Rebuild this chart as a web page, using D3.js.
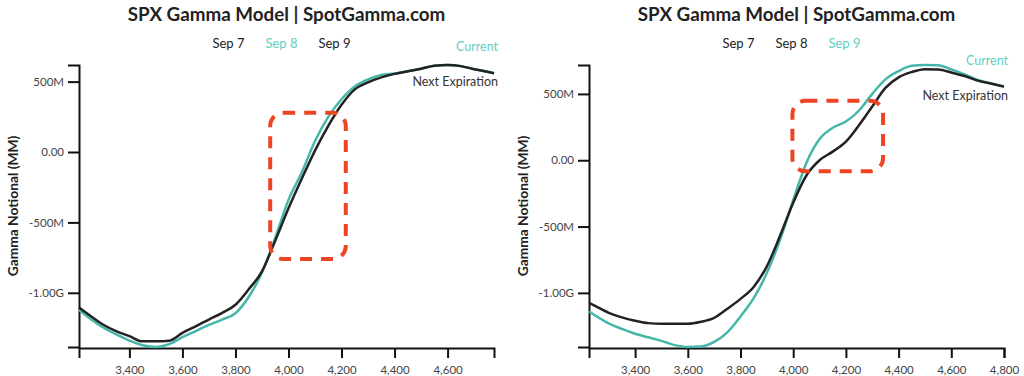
<!DOCTYPE html>
<html>
<head>
  <meta charset="utf-8">
  <script src="https://d3js.org/d3.v7.min.js"></script>
  <style>
    body {
      margin: 0;
      background: #fff;
      font-family: Lato, "Open Sans", sans-serif;
    }
    .axis path, .axis line {
      stroke: #111;
      stroke-width: 2px;
    }
    .axis text {
      font-family: Lato, sans-serif;
      font-size: 11.5px;
      fill: #444;
    }
  </style>
</head>
<body>
<script>
  // strikes + gamma (millions) read from the two snapshots
  var leftStrikes = [3210, 3250, 3300, 3350, 3400, 3450, 3500, 3550, 3600, 3650, 3700, 3750,
    3800, 3850, 3900, 3950, 4000, 4050, 4100, 4150, 4200, 4250, 4300, 4350, 4400, 4450,
    4500, 4550, 4600, 4650, 4700, 4750, 4775];
  var leftCurrent = [-1122, -1180, -1245, -1295, -1340, -1372, -1385, -1365, -1315, -1272, -1228, -1190,
    -1145, -1030, -855, -610, -340, -145, 78, 250, 375, 465, 515, 548, 558, 573,
    592, 612, 618, 610, 588, 570, 560];
  var leftNext = [-1105, -1160, -1225, -1272, -1308, -1345, -1345, -1340, -1285, -1238, -1190, -1143,
    -1085, -975, -848, -630, -400, -190, 10, 185, 335, 445, 495, 530, 555, 573,
    592, 612, 618, 610, 588, 570, 560];

  var rightStrikes = [3225, 3250, 3300, 3350, 3400, 3450, 3500, 3550, 3600, 3650, 3700, 3750,
    3800, 3850, 3900, 3950, 4000, 4050, 4100, 4150, 4200, 4250, 4300, 4350, 4400, 4450,
    4500, 4550, 4600, 4650, 4700, 4750, 4800];
  var rightCurrent = [-1140, -1172, -1230, -1272, -1308, -1335, -1362, -1394, -1408, -1405, -1370, -1298,
    -1178, -1040, -850, -600, -300, -20, 160, 245, 292, 375, 500, 610, 672, 712,
    718, 716, 685, 648, 605, 578, 555];
  var rightNext = [-1075, -1100, -1150, -1185, -1210, -1228, -1233, -1233, -1233, -1218, -1188, -1120,
    -1045, -955, -800, -570, -320, -115, 0, 65, 140, 265, 405, 545, 625, 665,
    686, 684, 662, 635, 600, 578, 555];

  var dateTabs = ["Sep 7", "Sep 8", "Sep 9"];
  var yTicks = [-1000, -500, 0, 500];
  var leftXTicks = [3400, 3600, 3800, 4000, 4200, 4400, 4600];
  var rightXTicks = [3400, 3600, 3800, 4000, 4200, 4400, 4600, 4800];

  // highlight boxes: [strikeFrom, strikeTo, gammaTop, gammaBottom]
  var leftBox = [3931, 4216, 278, -760];
  var rightBox = [3997, 4341, 448, -83];

  var teal = "#45b7a8",
      tealText = "#5fcfc4",
      dark = "#222";

  var W = 1024, H = 376;
  var svg = d3.select("body").append("svg")
      .attr("width", W)
      .attr("height", H);

  var loc = d3.formatLocale({decimal: ".", thousands: ",", grouping: [3], currency: ["$", ""], minus: "-"});
  var siFmt = loc.format(".3s");
  var commaFmt = loc.format(",");

  function drawPanel(ox, strikes, current, next, xTicks, activeTab, box) {
    var left = 79, right = 494, top = 65, bottom = 347;
    var g = svg.append("g").attr("transform", "translate(" + ox + ",0)");

    var x = d3.scaleLinear()
        .domain(d3.extent(strikes))
        .range([left, right]);
    var y = d3.scaleLinear()
        .domain([d3.min(current.concat(next)), d3.max(current.concat(next))])
        .range([bottom, top]);

    var cx = (left + right) / 2;

    g.append("text")
        .attr("x", cx)
        .attr("y", 21)
        .attr("text-anchor", "middle")
        .style("font-size", "18.8px")
        .style("font-weight", 700)
        .style("fill", "#222")
        .text("SPX Gamma Model | SpotGamma.com");

    g.selectAll(".tab")
        .data(dateTabs)
        .enter()
        .append("text")
        .attr("x", function (d, i) { return cx - 58 + i * 53; })
        .attr("y", 47.5)
        .attr("text-anchor", "middle")
        .style("font-size", "13px")
        .style("fill", function (d, i) { return i === activeTab ? tealText : "#222"; })
        .text(function (d) { return d; });

    g.append("g")
        .attr("class", "axis")
        .attr("transform", "translate(" + left + ",0)")
        .call(d3.axisLeft(y).tickValues(yTicks).tickSize(11)
          .tickFormat(function (d) { return siFmt(d * 1e6); }))
        .selectAll("text").attr("dx", "-1");

    g.append("g")
        .attr("class", "axis")
        .attr("transform", "translate(0," + (bottom + 1) + ")")
        .call(d3.axisBottom(x).tickValues(xTicks).tickSize(10).tickFormat(commaFmt))
        .selectAll("text").attr("dy", "1.1em");

    g.append("text")
        .attr("transform", "translate(18," + ((top + bottom) / 2) + ") rotate(-90)")
        .attr("text-anchor", "middle")
        .style("font-size", "13.8px")
        .style("font-weight", 700)
        .style("fill", "#222")
        .text("Gamma Notional (MM)");

    var line = d3.line()
        .x(function (d, i) { return x(strikes[i]); })
        .y(function (d) { return y(d); })
        .curve(d3.curveMonotoneX);

    g.append("path")
        .datum(current)
        .attr("d", line)
        .attr("fill", "none")
        .attr("stroke", teal)
        .attr("stroke-width", 2.5);

    g.append("path")
        .datum(next)
        .attr("d", line)
        .attr("fill", "none")
        .attr("stroke", dark)
        .attr("stroke-width", 2.5);

    var endY = y(next[next.length - 1]);
    g.append("text")
        .attr("x", right + 4)
        .attr("y", endY - 22)
        .attr("text-anchor", "end")
        .style("font-size", "12.5px")
        .style("fill", tealText)
        .text("Current");
    g.append("text")
        .attr("x", right + 4)
        .attr("y", endY + 13)
        .attr("text-anchor", "end")
        .style("font-size", "12.5px")
        .style("fill", "#333")
        .text("Next Expiration");

    g.append("rect")
        .attr("x", x(box[0]))
        .attr("y", y(box[2]))
        .attr("width", x(box[1]) - x(box[0]))
        .attr("height", y(box[3]) - y(box[2]))
        .attr("rx", 13)
        .attr("fill", "none")
        .attr("stroke", "#ee4424")
        .attr("stroke-width", 4)
        .attr("stroke-dasharray", "12,9");
  }

  drawPanel(0, leftStrikes, leftCurrent, leftNext, leftXTicks, 1, leftBox);
  drawPanel(510, rightStrikes, rightCurrent, rightNext, rightXTicks, 2, rightBox);
</script>
</body>
</html>
